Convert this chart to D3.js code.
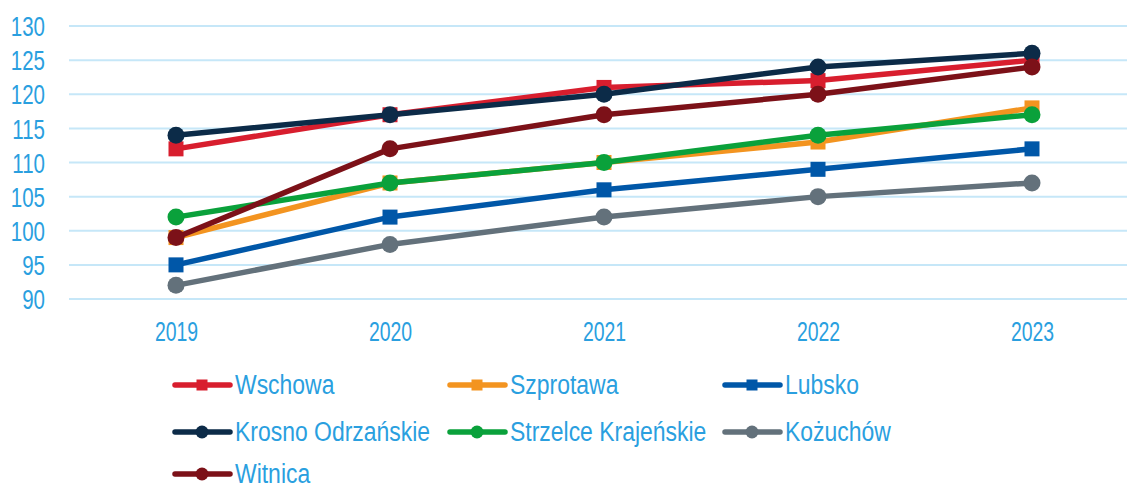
<!DOCTYPE html>
<html>
<head>
<meta charset="utf-8">
<script src="https://cdn.jsdelivr.net/npm/d3@7"></script>
<style>
  html, body { margin: 0; padding: 0; background: #fff; }
  svg { display: block; }
  text { font-family: "Liberation Sans", Arial, sans-serif; fill: #2a9fdf; }
</style>
</head>
<body>
<svg id="chart" width="1127" height="488"></svg>
<script>
// Years on the x axis
const years = ["2019", "2020", "2021", "2022", "2023"];
// Y axis ticks
const yTicks = [90, 95, 100, 105, 110, 115, 120, 125, 130];

// One array of values per municipality
const wschowa   = [112, 117, 121, 122, 125];
const szprotawa = [99, 107, 110, 113, 118];
const lubsko    = [95, 102, 106, 109, 112];
const krosno    = [114, 117, 120, 124, 126];
const strzelce  = [102, 107, 110, 114, 117];
const kozuchow  = [92, 98, 102, 105, 107];
const witnica   = [99, 112, 117, 120, 124];

const seriesNames = ["Wschowa", "Szprotawa", "Lubsko", "Krosno Odrzańskie", "Strzelce Krajeńskie", "Kożuchów", "Witnica"];
const seriesValues = [wschowa, szprotawa, lubsko, krosno, strzelce, kozuchow, witnica];
const seriesColors = ["#d81e2e", "#f39420", "#0057a8", "#0c2b48", "#0aa13b", "#63717b", "#7c1118"];
const seriesMarkers = ["square", "square", "square", "circle", "circle", "circle", "circle"];

const svg = d3.select("#chart");

const x = d3.scalePoint().domain(years).range([176, 1032]);
const y = d3.scaleLinear().domain([90, 130]).range([299, 26]);

// Horizontal grid lines
svg.append("g")
  .selectAll("line")
  .data(yTicks)
  .join("line")
  .attr("x1", 69).attr("x2", 1127)
  .attr("y1", d => y(d)).attr("y2", d => y(d))
  .attr("stroke", "#c6e7f8")
  .attr("stroke-width", 2);

// Y axis labels (narrowed horizontally to a condensed look)
const yAxis = d3.axisLeft(y).tickValues(yTicks).tickSize(0).tickPadding(0);
const gy = svg.append("g").attr("transform", "translate(45,0)").call(yAxis);
gy.select(".domain").remove();
gy.selectAll("text")
  .attr("font-size", 27)
  .attr("font-family", null)
  .attr("dy", "0.36em")
  .attr("transform", "scale(0.76,1)")
  .style("fill", "#2a9fdf");

// X axis labels
const xAxis = d3.axisBottom(x).tickSize(0).tickPadding(0);
const gx = svg.append("g").attr("transform", "translate(0,341)").call(xAxis);
gx.select(".domain").remove();
gx.selectAll("text")
  .attr("font-size", 27)
  .attr("font-family", null)
  .attr("dy", 0)
  .attr("y", 0)
  .attr("transform", "scale(0.72,1)")
  .style("fill", "#2a9fdf");

const line = d3.line().x((d, i) => x(years[i])).y(d => y(d));

function drawMarker(g, type, cx, cy, color, size) {
  if (type === "square") {
    g.append("rect")
      .attr("x", cx - size).attr("y", cy - size)
      .attr("width", size * 2).attr("height", size * 2)
      .attr("fill", color);
  } else {
    g.append("circle")
      .attr("cx", cx).attr("cy", cy).attr("r", size + 1)
      .attr("fill", color);
  }
}

// Series lines and markers
seriesValues.forEach((vals, k) => {
  const g = svg.append("g");
  g.append("path")
    .datum(vals)
    .attr("d", line)
    .attr("fill", "none")
    .attr("stroke", seriesColors[k])
    .attr("stroke-width", 5.5)
    .attr("stroke-linejoin", "round");
  vals.forEach((v, i) => drawMarker(g, seriesMarkers[k], x(years[i]), y(v), seriesColors[k], 7.5));
});

// Legend: three columns
const legX = [172, 447, 722];
const legY = [385, 432, 474];
seriesNames.forEach((name, k) => {
  const col = k % 3, row = Math.floor(k / 3);
  const lx = legX[col], ly = legY[row];
  const g = svg.append("g").attr("transform", `translate(${lx},${ly})`);
  g.append("line")
    .attr("x1", 3).attr("x2", 58).attr("y1", 0).attr("y2", 0)
    .attr("stroke", seriesColors[k]).attr("stroke-width", 5.5)
    .attr("stroke-linecap", "round");
  drawMarker(g, seriesMarkers[k], 30, 0, seriesColors[k], 5.5);
  g.append("g")
    .attr("transform", "translate(63,9) scale(0.85,1)")
    .append("text")
    .attr("x", 0).attr("y", 0)
    .attr("font-size", 27)
    .text(name);
});
</script>
</body>
</html>
